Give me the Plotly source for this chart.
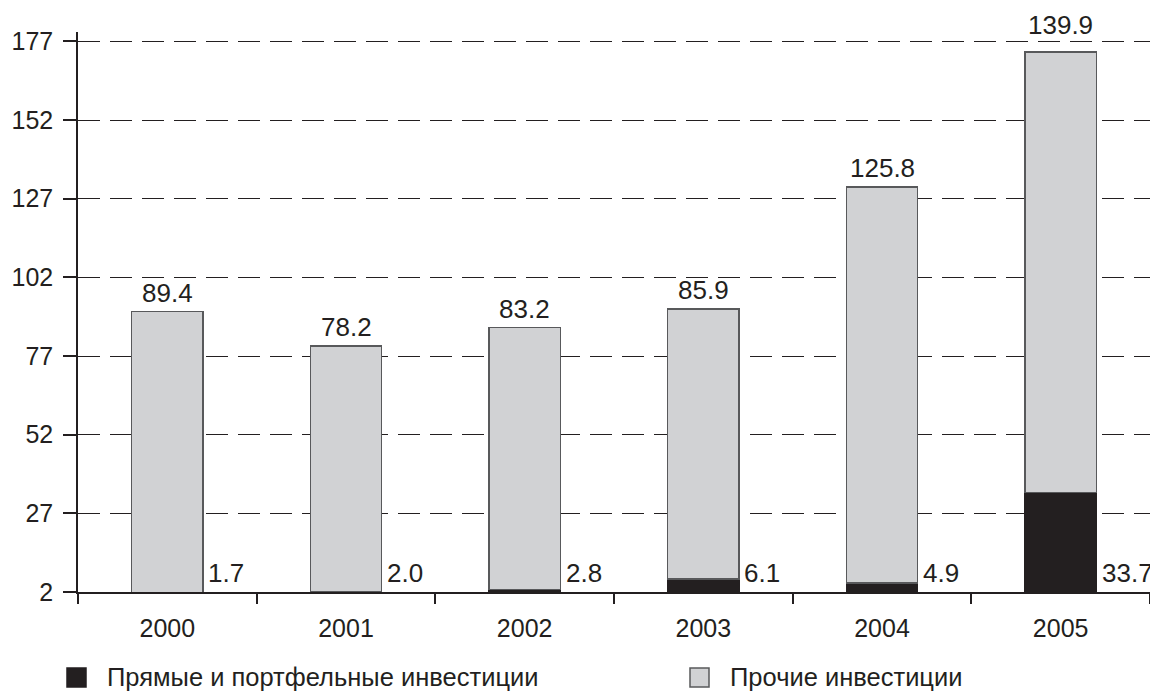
import plotly.graph_objects as go

years = ["2000", "2001", "2002", "2003", "2004", "2005"]
direct = [1.7, 2.0, 2.8, 6.1, 4.9, 33.7]
other = [89.4, 78.2, 83.2, 85.9, 125.8, 139.9]
name_direct = "Прямые и портфельные инвестиции"
name_other = "Прочие инвестиции"
yticks = [2, 27, 52, 77, 102, 127, 152, 177]

FONT = "Liberation Sans, Arial, sans-serif"
TXT = "#231f20"
BLACK = "#231f20"
GRAY = "#d1d2d4"
EDGE = "#58595b"

fig = go.Figure()
fig.add_trace(go.Bar(x=years, y=direct, name=name_direct, marker=dict(color=BLACK, line=dict(color=BLACK, width=1.5)),
                     width=0.4, showlegend=False, hoverinfo="skip"))
fig.add_trace(go.Bar(x=years, y=other, name=name_other, marker=dict(color=GRAY, line=dict(color=EDGE, width=1.5)),
                     width=0.4, showlegend=False, hoverinfo="skip"))

annotations = []
for i, (d, o) in enumerate(zip(direct, other)):
    total = d + o
    # label lifted above the top gridline when the bar reaches it
    lift = 10 if total > 170 else 2
    annotations.append(dict(x=i, y=total, xref="x", yref="y", text=f"{o:.1f}", showarrow=False,
                            xanchor="center", yanchor="bottom", yshift=lift,
                            font=dict(size=26, color=TXT, family=FONT)))
    annotations.append(dict(x=i, y=2, xref="x", yref="y", text=f"{d:.1f}", showarrow=False,
                            xanchor="left", yanchor="bottom", xshift=39, yshift=2,
                            font=dict(size=26, color=TXT, family=FONT)))

# legend
legend_items = [(name_direct, BLACK, BLACK, 67), (name_other, GRAY, EDGE, 690)]
shapes = []
for name, fill, edge, px in legend_items:
    shapes.append(dict(type="rect", xref="paper", yref="paper",
                       x0=(px - 78) / 1072, x1=(px + 19 - 78) / 1072,
                       y0=(592 - 687) / 560, y1=(592 - 668) / 560,
                       fillcolor=fill, line=dict(color=edge, width=1.5)))
    annotations.append(dict(x=(px + 38 - 78) / 1072, y=(592 - 677) / 560, xref="paper", yref="paper",
                            text=name, showarrow=False, xanchor="left", yanchor="middle",
                            font=dict(size=25.5, color=TXT, family=FONT)))

fig.update_layout(
    barmode="stack",
    width=1150, height=690,
    margin=dict(l=70, r=8, t=24, b=106, autoexpand=False),
    plot_bgcolor="white", paper_bgcolor="white",
    font=dict(family=FONT, size=25, color=TXT),
    annotations=annotations, shapes=shapes,
    xaxis=dict(type="category", categoryorder="array", categoryarray=years, range=[-0.5, 5.5],
               showline=True, linecolor=TXT, linewidth=1.5, automargin=False,
               ticks="outside", tickson="boundaries", ticklen=10, tickwidth=1.5, tickcolor=TXT,
               showgrid=False, ticklabelstandoff=13, tickangle=0, tickfont=dict(size=25, color=TXT)),
    yaxis=dict(range=[2, 180], tickvals=yticks, showline=True, linecolor=TXT, linewidth=1.5, automargin=False,
               ticks="outside", ticklen=13, tickwidth=1.5, tickcolor=TXT, ticklabelstandoff=5,
               showgrid=True, gridcolor=TXT, gridwidth=1.3, griddash="22px,10px",
               zeroline=False, tickfont=dict(size=25, color=TXT)),
)

fig.write_html("out.html")
